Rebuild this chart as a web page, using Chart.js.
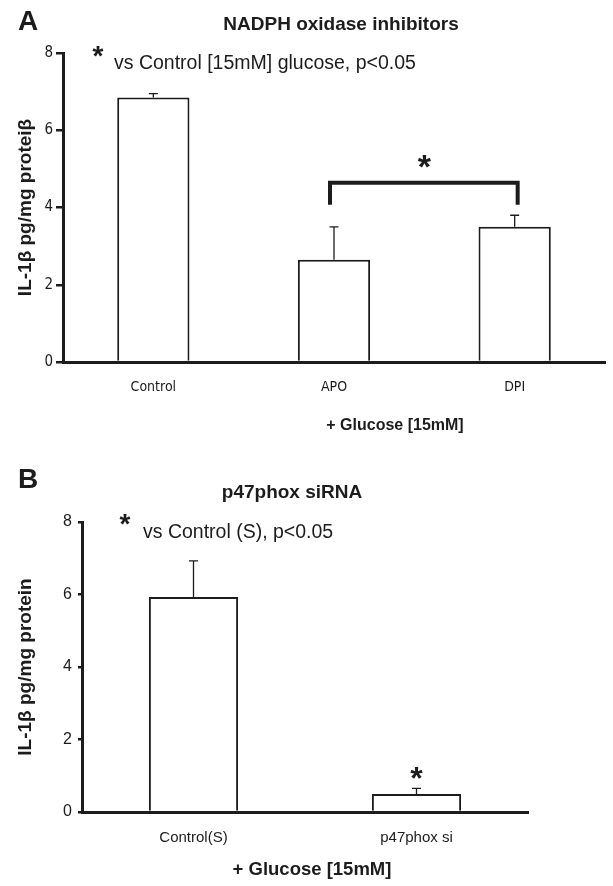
<!DOCTYPE html>
<html>
<head>
<meta charset="utf-8">
<script src="https://cdn.jsdelivr.net/npm/chart.js@4.4.1/dist/chart.umd.min.js"></script>
<style>
  html, body { margin: 0; padding: 0; background: #fff; }
  #wrap { position: relative; width: 613px; height: 886px; }
  canvas { position: absolute; left: 0; }
</style>
</head>
<body>
<div id="wrap">
  <canvas id="chartA" width="613" height="445" style="top:0"></canvas>
  <canvas id="chartB" width="613" height="441" style="top:445px"></canvas>
</div>
<script>
// ---------------- data ----------------
const yTicks = [0, 2, 4, 6, 8];

// panel A : NADPH oxidase inhibitors
const catsA = ['Control', 'APO', 'DPI'];
const meanA = [6.85, 2.65, 3.5];
const errA  = [0.1, 0.85, 0.3];

// panel B : p47phox siRNA
const catsB = ['Control(S)', 'p47phox si'];
const meanB = [5.93, 0.5];
const errB  = [1.0, 0.15];

// ---------------- look ----------------
const INK = '#1c1c1c';
const SANS = '"Liberation Sans", Arial, "Helvetica", sans-serif';
const NARROW = '"Liberation Sans Narrow", "DejaVu Sans Condensed", "Arial Narrow", sans-serif';

// centre an asterisk glyph on (cx, cy)
function drawStar(ctx, cx, cy, size) {
  ctx.font = 'bold ' + size + 'px ' + SANS;
  ctx.textAlign = 'center';
  ctx.textBaseline = 'alphabetic';
  const m = ctx.measureText('*');
  const asc = m.actualBoundingBoxAscent, desc = m.actualBoundingBoxDescent;
  ctx.fillText('*', cx, cy + (asc - desc) / 2);
}

// error bars, bracket, stars and free text
const extras = {
  id: 'extras',
  afterDatasetsDraw(chart, args, opts) {
    const ctx = chart.ctx, y = chart.scales.y;
    const bars = chart.getDatasetMeta(0).data;
    const vals = chart.data.datasets[0].data;
    ctx.save();
    ctx.strokeStyle = INK;
    ctx.fillStyle = INK;

    ctx.lineWidth = 1.3;
    (opts.errors || []).forEach((e, i) => {
      const bx = bars[i].x;
      const y0 = y.getPixelForValue(vals[i]);
      const y1 = y.getPixelForValue(vals[i] + e);
      ctx.beginPath();
      ctx.moveTo(bx, y0); ctx.lineTo(bx, y1);
      ctx.moveTo(bx - 4.5, y1); ctx.lineTo(bx + 4.5, y1);
      ctx.stroke();
    });

    if (opts.bracket) {
      const br = opts.bracket;
      const xa = bars[br.from].x - 4, xb = bars[br.to].x + 3;
      const yt = y.getPixelForValue(br.top), yl = y.getPixelForValue(br.leg);
      ctx.lineWidth = 4;
      ctx.lineCap = 'butt';
      ctx.lineJoin = 'miter';
      ctx.beginPath();
      ctx.moveTo(xa, yl); ctx.lineTo(xa, yt); ctx.lineTo(xb, yt); ctx.lineTo(xb, yl);
      ctx.stroke();
    }

    (opts.stars || []).forEach(s => {
      const cx = s.between
        ? (bars[s.between[0]].x + bars[s.between[1]].x) / 2
        : bars[s.at].x;
      drawStar(ctx, cx, y.getPixelForValue(s.value), s.size);
    });
    ctx.restore();
  },
  afterDraw(chart, args, opts) {
    const ctx = chart.ctx;
    ctx.save();
    ctx.fillStyle = INK;
    ctx.textBaseline = 'alphabetic';
    (opts.texts || []).forEach(t => {
      ctx.font = t.font;
      ctx.textAlign = t.align || 'left';
      ctx.fillText(t.text, t.x, t.y);
    });
    (opts.freeStars || []).forEach(s => drawStar(ctx, s.x, s.y, s.size));
    ctx.restore();
  }
};

function makeChart(id, cats, vals, o) {
  return new Chart(document.getElementById(id), {
    type: 'bar',
    data: {
      labels: cats,
      datasets: [{
        data: vals,
        backgroundColor: '#ffffff',
        borderColor: INK,
        borderWidth: 2,
        barPercentage: 0.4,
        categoryPercentage: 1.0
      }]
    },
    plugins: [extras],
    options: {
      responsive: false,
      animation: false,
      layout: { padding: o.padding },
      plugins: {
        legend: { display: false },
        tooltip: { enabled: false },
        title: { display: false },
        extras: o.extras
      },
      scales: {
        x: {
          z: 1,
          grid: { display: false, drawTicks: false },
          border: { display: true, color: INK, width: 3 },
          ticks: { color: INK, font: o.xFont, padding: o.xPad, maxRotation: 0 },
          afterFit: s => { s.height = o.xHeight; }
        },
        y: {
          z: 1,
          min: 0, max: 8,
          afterBuildTicks: s => { s.ticks = yTicks.map(v => ({ value: v })); },
          grid: { display: true, drawOnChartArea: false, drawTicks: true,
                  tickLength: o.tickLen, color: INK, lineWidth: 2.5 },
          border: { display: true, color: INK, width: 3 },
          ticks: { color: INK, font: o.yFont, padding: o.yPad },
          title: { display: true, text: o.yTitle, color: INK,
                   font: { family: SANS, size: 19, weight: 'bold' },
                   padding: { top: 14, bottom: 0 } },
          afterFit: s => { s.width = o.yWidth; }
        }
      }
    }
  });
}

// ---------------- panel A ----------------
makeChart('chartA', catsA, meanA, {
  padding: { top: 53, right: 8, left: 0, bottom: 0 },
  xHeight: 83, yWidth: 63, tickLen: 7,
  xFont: { family: NARROW, size: 14 }, xPad: 17,
  yFont: { family: NARROW, size: 15 }, yPad: 3,
  yTitle: 'IL-1\u03b2 pg/mg protei\u03b2',
  extras: {
    errors: errA,
    bracket: { from: 1, to: 2, top: 4.64, leg: 4.07 },
    stars: [{ between: [1, 2], value: 5.18, size: 34 }],
    freeStars: [{ x: 98, y: 51, size: 28 }],
    texts: [
      { text: 'A', x: 18, y: 30, font: 'bold 28px ' + SANS },
      { text: 'NADPH oxidase inhibitors', x: 341, y: 30, align: 'center', font: 'bold 19px ' + SANS },
      { text: 'vs Control [15mM] glucose, p<0.05', x: 114, y: 69, font: '19.5px ' + SANS },
      { text: '+ Glucose [15mM]', x: 395, y: 430, align: 'center', font: 'bold 16px ' + SANS }
    ]
  }
});

// ---------------- panel B ----------------
makeChart('chartB', catsB, meanB, {
  padding: { top: 77, right: 85, left: 0, bottom: 0 },
  xHeight: 74, yWidth: 82, tickLen: 4,
  xFont: { family: SANS, size: 15 }, xPad: 17,
  yFont: { family: SANS, size: 16 }, yPad: 6,
  yTitle: 'IL-1\u03b2 pg/mg protein',
  extras: {
    errors: errB,
    stars: [{ at: 1, value: 1.08, size: 32 }],
    freeStars: [{ x: 125, y: 74, size: 28 }],
    texts: [
      { text: 'B', x: 18, y: 43, font: 'bold 28px ' + SANS },
      { text: 'p47phox siRNA', x: 292, y: 53, align: 'center', font: 'bold 19px ' + SANS },
      { text: 'vs Control (S), p<0.05', x: 143, y: 93, font: '19.5px ' + SANS },
      { text: '+ Glucose [15mM]', x: 312, y: 430, align: 'center', font: 'bold 18.5px ' + SANS }
    ]
  }
});
</script>
</body>
</html>
